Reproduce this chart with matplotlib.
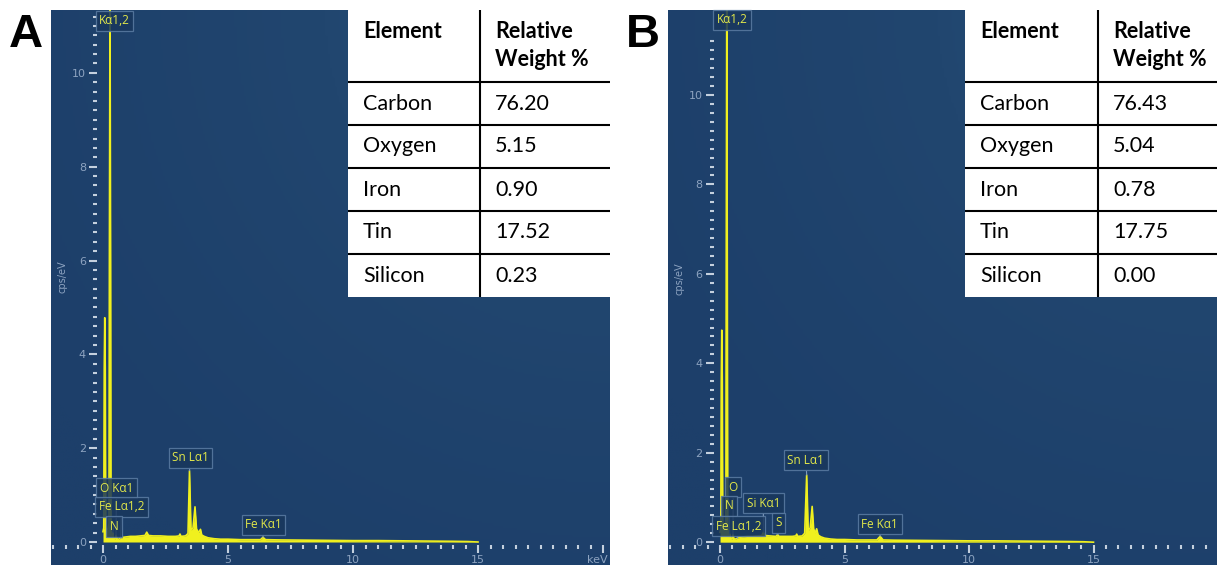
"""EDS spectra of two samples (A, B) with elemental weight tables."""

import numpy as np
import matplotlib.pyplot as plt
from matplotlib.colors import LinearSegmentedColormap
from matplotlib.patches import Rectangle
from matplotlib.ticker import MultipleLocator, FixedLocator
import matplotlib.transforms as mtransforms

W, H = 1217, 565

ELEMENTS = ["Carbon", "Oxygen", "Iron", "Tin", "Silicon"]
WEIGHT_A = [76.20, 5.15, 0.90, 17.52, 0.23]
WEIGHT_B = [76.43, 5.04, 0.78, 17.75, 0.00]

# spectrum A: energy (keV) / intensity (cps/eV)
A_KEV = [0.00, 0.03, 0.05, 0.07, 0.09, 0.11, 0.15, 0.20, 0.24, 0.255, 0.28,
         0.305, 0.32, 0.35, 0.39, 0.42, 0.48, 0.52, 0.56, 0.62, 0.70, 0.80,
         0.95, 1.10, 1.30, 1.50, 1.68, 1.75, 1.82, 2.00, 2.30, 2.60, 2.90,
         3.04, 3.08, 3.12, 3.30, 3.40, 3.46, 3.52, 3.60, 3.68, 3.74, 3.82,
         3.90, 3.95, 4.05, 4.20, 4.45, 4.70, 5.00, 5.50, 6.00, 6.30, 6.40,
         6.50, 7.00, 8.00, 9.00, 10.0, 11.0, 12.0, 13.0, 14.0, 14.6, 15.0]
A_CPS = [0.22, 0.30, 3.70, 4.78, 3.70, 0.30, 0.25, 0.28, 0.40, 5.90, 11.6,
         5.90, 0.35, 0.10, 0.20, 0.08, 0.06, 0.14, 0.07, 0.06, 0.08, 0.10,
         0.11, 0.12, 0.12, 0.13, 0.14, 0.21, 0.14, 0.13, 0.13, 0.12, 0.12,
         0.13, 0.17, 0.12, 0.13, 0.18, 1.52, 0.25, 0.30, 0.75, 0.28, 0.20,
         0.27, 0.15, 0.12, 0.09, 0.07, 0.06, 0.06, 0.05, 0.05, 0.05, 0.10,
         0.05, 0.045, 0.04, 0.035, 0.03, 0.03, 0.025, 0.02, 0.015, 0.01, 0.0]

# spectrum B
B_KEV = [0.00, 0.03, 0.05, 0.07, 0.09, 0.11, 0.15, 0.20, 0.235, 0.25, 0.27,
         0.29, 0.31, 0.35, 0.39, 0.43, 0.48, 0.52, 0.56, 0.62, 0.70, 0.80,
         0.95, 1.10, 1.30, 1.50, 1.68, 1.74, 1.80, 2.00, 2.25, 2.31, 2.37,
         2.60, 2.90, 3.04, 3.08, 3.12, 3.30, 3.40, 3.48, 3.54, 3.62, 3.70,
         3.76, 3.82, 3.88, 3.94, 4.05, 4.20, 4.45, 4.70, 5.00, 5.50, 6.00,
         6.30, 6.43, 6.55, 7.00, 8.00, 9.00, 10.0, 11.0, 12.0, 13.0, 14.0,
         14.6, 15.0]
B_CPS = [0.22, 0.30, 3.60, 4.74, 3.60, 0.30, 0.25, 0.28, 0.40, 6.50, 12.2,
         6.50, 0.35, 0.12, 0.18, 0.08, 0.07, 0.17, 0.07, 0.07, 0.09, 0.11,
         0.12, 0.13, 0.13, 0.14, 0.15, 0.22, 0.15, 0.14, 0.13, 0.17, 0.13,
         0.13, 0.13, 0.14, 0.18, 0.13, 0.14, 0.20, 1.50, 0.26, 0.32, 0.80,
         0.30, 0.20, 0.30, 0.16, 0.12, 0.09, 0.07, 0.06, 0.06, 0.05, 0.05,
         0.05, 0.13, 0.05, 0.045, 0.04, 0.035, 0.03, 0.03, 0.025, 0.02,
         0.015, 0.01, 0.0]

# peak labels: text, box centre (keV, cps/eV), energy pointed at
LABELS_A = [("Kα1,2", 0.46, 11.11, None),
            ("O Kα1", 0.54, 1.15, 0.52),
            ("Fe Lα1,2", 0.74, 0.75, 0.70),
            ("N", 0.44, 0.33, 0.39),
            ("Sn Lα1", 3.50, 1.80, 3.46),
            ("Fe Kα1", 6.42, 0.37, 6.40)]
LABELS_B = [("Kα1,2", 0.48, 11.68, None),
            ("O", 0.53, 1.23, 0.52),
            ("N", 0.36, 0.81, 0.39),
            ("Si Kα1", 1.74, 0.87, 1.74),
            ("Fe Lα1,2", 0.74, 0.36, 0.70),
            ("S", 2.35, 0.43, 2.31),
            ("Sn Lα1", 3.45, 1.83, 3.48),
            ("Fe Kα1", 6.41, 0.40, 6.43)]

YELLOW = "#f0f01e"
LABEL_YELLOW = "#e2e84a"
TICK_COLOR = "#c4d0de"
TICKLABEL_COLOR = "#8da3c0"
BG = LinearSegmentedColormap.from_list("bg", ["#1d3f6a", "#21466f", "#2c5a86"])

fig = plt.figure(figsize=(W / 100, H / 100), dpi=100)


def draw_spectrum(rect_px, kev, cps, xlim, ylim, spine_x, labels, ylab_pos):
    left, right, top, bottom = rect_px
    ax = fig.add_axes([left / W, 1 - bottom / H, (right - left) / W, (bottom - top) / H])

    yy, xx = np.mgrid[0:1:240j, 0:1:240j]
    d = np.hypot(1 - xx, 1 - yy) / np.sqrt(2)
    shade = np.clip(1 - 1.15 * d, 0, 1) ** 1.3
    ax.imshow(shade, extent=(xlim[0], xlim[1], ylim[0], ylim[1]), origin="lower",
              aspect="auto", cmap=BG, vmin=0, vmax=1, zorder=0)

    ax.fill_between(kev, cps, 0, color=YELLOW, lw=0, zorder=3)
    ax.plot(kev, cps, color=YELLOW, lw=1.2, zorder=3)

    ax.set_xlim(*xlim)
    ax.set_ylim(*ylim)

    for side in ("top", "right"):
        ax.spines[side].set_visible(False)
    ax.spines["left"].set_position(("data", spine_x))
    ax.spines["bottom"].set_position(("data", -0.06))
    ax.spines["left"].set_color("none")
    ax.spines["bottom"].set_color("none")

    ax.yaxis.set_major_locator(FixedLocator([0, 2, 4, 6, 8, 10]))
    ax.yaxis.set_minor_locator(FixedLocator(np.arange(0, 11.3, 0.2)))
    ax.xaxis.set_major_locator(FixedLocator([0, 5, 10, 15, 20]))
    ax.xaxis.set_minor_locator(MultipleLocator(0.5))
    ax.set_xticklabels(["0", "5", "10", "15", "keV"])

    ax.tick_params(axis="both", which="both", direction="out", color=TICK_COLOR,
                   labelcolor=TICKLABEL_COLOR, labelsize=8, width=1.5)
    ax.tick_params(axis="y", which="major", length=6, pad=2)
    ax.tick_params(axis="y", which="minor", length=3)
    ax.tick_params(axis="x", which="major", length=5.5, pad=1.5)
    ax.tick_params(axis="x", which="minor", length=3)
    last = ax.get_xticklabels()[-1]
    last.set_transform(last.get_transform() +
                       mtransforms.ScaledTranslation(-4 / 72, 0, fig.dpi_scale_trans))

    ax.text(ylab_pos[0], ylab_pos[1], "cps/eV", rotation=90, ha="center", va="center",
            fontsize=7, color=TICKLABEL_COLOR, zorder=4)

    for text, bx, by, peak in labels:
        box = dict(boxstyle="square,pad=0.3", fc="#19375d", ec="#5b7ca3",
                   lw=0.9, alpha=0.85)
        style = dict(ha="center", va="center", fontsize=8.5, color=LABEL_YELLOW,
                     bbox=box, zorder=5, family=["Open Sans", "DejaVu Sans"])
        if peak is None:
            ax.text(bx, by, text, **style)
        else:
            ax.annotate(text, xy=(peak, np.interp(peak, kev, cps)), xytext=(bx, by),
                        arrowprops=dict(arrowstyle="-", color="#7f9bbd", lw=0.8,
                                        shrinkA=0, shrinkB=0), **style)
    return ax


def draw_table(left_px, right_px, split_px, weights):
    top_px, bottom_px = 10, 297
    width = right_px - left_px
    height = bottom_px - top_px
    split = split_px - left_px
    tax = fig.add_axes([left_px / W, 1 - bottom_px / H, width / W, height / H])
    tax.set_xlim(0, width)
    tax.set_ylim(height, 0)
    tax.axis("off")
    tax.add_patch(Rectangle((0, 0), width, height, color="white", zorder=0))

    header_h, row_h = 72, 43
    tax.plot([split, split], [0, height], color="black", lw=1.5)
    for i in range(len(ELEMENTS)):
        y = header_h + i * row_h
        tax.plot([0, width], [y, y], color="black", lw=1.5)

    font = dict(family=["Lato", "DejaVu Sans"], fontsize=15.5, color="black", va="center")
    tax.text(15, 22, "Element", fontweight="bold", **font)
    tax.text(split + 15, 22, "Relative", fontweight="bold", **font)
    tax.text(split + 15, 49, "Weight %", fontweight="bold", **font)
    for i, (name, w) in enumerate(zip(ELEMENTS, weights)):
        yc = header_h + i * row_h + row_h / 2
        tax.text(15, yc, name, **font)
        tax.text(split + 15, yc, f"{w:.2f}", **font)


draw_spectrum((51, 610, 10, 565), A_KEV, A_CPS, (-2.08, 20.28), (-0.49, 11.34),
              -0.24, LABELS_A, (-1.64, 5.65))
draw_spectrum((668, 1217, 10, 565), B_KEV, B_CPS, (-2.09, 19.96), (-0.51, 11.9),
              -0.26, LABELS_B, (-1.61, 5.9))

draw_table(348, 610, 480, WEIGHT_A)
draw_table(965, 1217, 1098, WEIGHT_B)

fig.text(26 / W, 1 - 35 / H, "A", fontsize=34, fontweight="bold",
         family=["Liberation Sans", "DejaVu Sans"], ha="center", va="center")
fig.text(643 / W, 1 - 35 / H, "B", fontsize=34, fontweight="bold",
         family=["Liberation Sans", "DejaVu Sans"], ha="center", va="center")

fig.savefig("out.png", dpi=100)
